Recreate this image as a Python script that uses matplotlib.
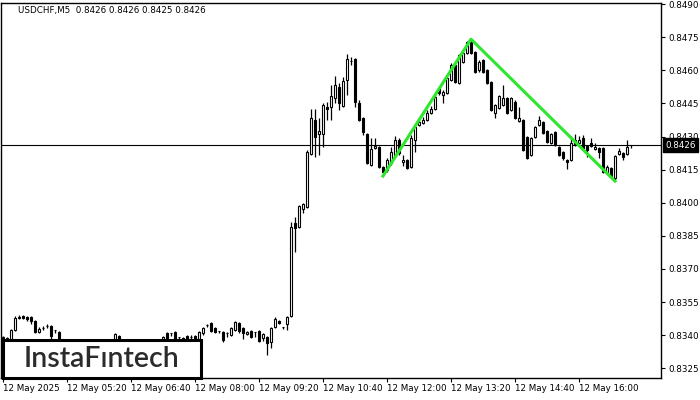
import numpy as np
import matplotlib
matplotlib.use('Agg')
import matplotlib.pyplot as plt
from matplotlib.patches import Rectangle

plt.rcParams['font.family'] = ['DejaVu Sans']

# USDCHF M5 bars, 12 May 2025 from 04:00
opens = [0.83387, 0.83382, 0.83378, 0.83423, 0.83478, 0.83487, 0.83482, 0.83482, 0.83464, 0.83414,
         0.83432, 0.83441, 0.83441, 0.83423, 0.83414, 0.83373, 0.83369, 0.83373, 0.83364, 0.83369,
         0.83364, 0.83369, 0.83373, 0.83378, 0.83373, 0.83369, 0.83364, 0.83369, 0.83373, 0.83396,
         0.83373, 0.83369, 0.83373, 0.83373, 0.83369, 0.83364, 0.83369, 0.83364, 0.83373, 0.83373,
         0.83373, 0.83410, 0.83410, 0.83414, 0.83391, 0.83387, 0.83396, 0.83391, 0.83396, 0.83378,
         0.83410, 0.83446, 0.83455, 0.83432, 0.83419, 0.83414, 0.83410, 0.83401, 0.83423, 0.83455,
         0.83432, 0.83405, 0.83419, 0.83414, 0.83419, 0.83387, 0.83391, 0.83369, 0.83437, 0.83464,
         0.83437, 0.83450, 0.83487, 0.83908, 0.83890, 0.83971, 0.83980, 0.84220, 0.84375, 0.84311,
         0.84311, 0.84433, 0.84433, 0.84474, 0.84524, 0.84438, 0.84556, 0.84642, 0.84651, 0.84452,
         0.84384, 0.84311, 0.84171, 0.84248, 0.84252, 0.84162, 0.84148, 0.84180, 0.84216, 0.84284,
         0.84184, 0.84193, 0.84162, 0.84284, 0.84352, 0.84361, 0.84375, 0.84406, 0.84424, 0.84519,
         0.84488, 0.84497, 0.84556, 0.84624, 0.84542, 0.84637, 0.84678, 0.84728, 0.84683, 0.84601,
         0.84646, 0.84601, 0.84547, 0.84406, 0.84429, 0.84442, 0.84474, 0.84420, 0.84456, 0.84370,
         0.84375, 0.84298, 0.84216, 0.84298, 0.84352, 0.84365, 0.84325, 0.84270, 0.84320, 0.84252,
         0.84230, 0.84193, 0.84193, 0.84284, 0.84270, 0.84293, 0.84257, 0.84270, 0.84243, 0.84248,
         0.84248, 0.84134, 0.84157, 0.84112, 0.84220, 0.84225, 0.84220, 0.8426]
highs = [0.83396, 0.83391, 0.83428, 0.83487, 0.83491, 0.83491, 0.83487, 0.83487, 0.83469, 0.83437,
         0.83441, 0.83450, 0.83446, 0.83423, 0.83419, 0.83378, 0.83378, 0.83378, 0.83373, 0.83373,
         0.83373, 0.83378, 0.83378, 0.83382, 0.83378, 0.83373, 0.83373, 0.83378, 0.83410, 0.83401,
         0.83378, 0.83378, 0.83382, 0.83378, 0.83373, 0.83373, 0.83373, 0.83378, 0.83382, 0.83378,
         0.83396, 0.83414, 0.83410, 0.83419, 0.83391, 0.83391, 0.83401, 0.83401, 0.83401, 0.83419,
         0.83437, 0.83450, 0.83459, 0.83437, 0.83419, 0.83419, 0.83414, 0.83437, 0.83464, 0.83459,
         0.83437, 0.83419, 0.83423, 0.83414, 0.83423, 0.83410, 0.83396, 0.83437, 0.83482, 0.83469,
         0.83437, 0.83487, 0.83912, 0.83935, 0.83989, 0.83999, 0.84239, 0.84424, 0.84424, 0.84384,
         0.84452, 0.84456, 0.84533, 0.84574, 0.84542, 0.84569, 0.84674, 0.84660, 0.84655, 0.84465,
         0.84388, 0.84316, 0.84293, 0.84293, 0.84257, 0.84166, 0.84202, 0.84252, 0.84302, 0.84293,
         0.84216, 0.84198, 0.84307, 0.84347, 0.84384, 0.84388, 0.84420, 0.84438, 0.84488, 0.84524,
         0.84510, 0.84569, 0.84633, 0.84633, 0.84674, 0.84683, 0.84732, 0.84741, 0.84687, 0.84646,
         0.84651, 0.84606, 0.84551, 0.84447, 0.84488, 0.84533, 0.84479, 0.84479, 0.84465, 0.84433,
         0.84379, 0.84302, 0.84298, 0.84347, 0.84393, 0.84370, 0.84329, 0.84316, 0.84325, 0.84257,
         0.84234, 0.84198, 0.84302, 0.84311, 0.84302, 0.84307, 0.84261, 0.84293, 0.84270, 0.84252,
         0.84252, 0.84171, 0.84162, 0.84216, 0.84248, 0.84230, 0.84284, 0.8426]
lows = [0.83378, 0.83373, 0.83369, 0.83419, 0.83473, 0.83473, 0.83464, 0.83450, 0.83410, 0.83410,
        0.83423, 0.83432, 0.83378, 0.83410, 0.83360, 0.83360, 0.83364, 0.83355, 0.83355, 0.83360,
        0.83360, 0.83364, 0.83369, 0.83369, 0.83360, 0.83355, 0.83360, 0.83364, 0.83369, 0.83369,
        0.83360, 0.83364, 0.83369, 0.83360, 0.83355, 0.83360, 0.83355, 0.83360, 0.83369, 0.83369,
        0.83369, 0.83373, 0.83396, 0.83369, 0.83378, 0.83369, 0.83373, 0.83382, 0.83373, 0.83373,
        0.83401, 0.83437, 0.83414, 0.83410, 0.83410, 0.83369, 0.83391, 0.83396, 0.83419, 0.83410,
        0.83382, 0.83401, 0.83387, 0.83391, 0.83369, 0.83373, 0.83310, 0.83342, 0.83432, 0.83450,
        0.83428, 0.83423, 0.83482, 0.83777, 0.83885, 0.83953, 0.83976, 0.84216, 0.84207, 0.84216,
        0.84252, 0.84375, 0.84375, 0.84452, 0.84420, 0.84433, 0.84488, 0.84624, 0.84433, 0.84370,
        0.84307, 0.84175, 0.84166, 0.84243, 0.84157, 0.84121, 0.84139, 0.84171, 0.84211, 0.84216,
        0.84166, 0.84153, 0.84157, 0.84230, 0.84347, 0.84356, 0.84370, 0.84402, 0.84420, 0.84488,
        0.84452, 0.84492, 0.84551, 0.84542, 0.84538, 0.84633, 0.84674, 0.84674, 0.84587, 0.84592,
        0.84587, 0.84538, 0.84415, 0.84384, 0.84424, 0.84438, 0.84402, 0.84415, 0.84379, 0.84365,
        0.84234, 0.84198, 0.84211, 0.84293, 0.84347, 0.84311, 0.84270, 0.84266, 0.84257, 0.84211,
        0.84193, 0.84153, 0.84189, 0.84257, 0.84266, 0.84243, 0.84207, 0.84252, 0.84239, 0.84202,
        0.84134, 0.84130, 0.84112, 0.84098, 0.84216, 0.84193, 0.84216, 0.8425]
closes = [0.83391, 0.83387, 0.83423, 0.83478, 0.83482, 0.83478, 0.83473, 0.83464, 0.83414, 0.83428,
          0.83432, 0.83441, 0.83396, 0.83423, 0.83373, 0.83369, 0.83373, 0.83364, 0.83369, 0.83364,
          0.83369, 0.83373, 0.83378, 0.83373, 0.83369, 0.83364, 0.83369, 0.83373, 0.83405, 0.83378,
          0.83369, 0.83373, 0.83378, 0.83369, 0.83364, 0.83369, 0.83364, 0.83373, 0.83378, 0.83378,
          0.83391, 0.83378, 0.83410, 0.83378, 0.83391, 0.83378, 0.83378, 0.83391, 0.83378, 0.83414,
          0.83432, 0.83446, 0.83419, 0.83414, 0.83419, 0.83378, 0.83410, 0.83432, 0.83459, 0.83419,
          0.83410, 0.83414, 0.83391, 0.83414, 0.83373, 0.83405, 0.83364, 0.83432, 0.83473, 0.83455,
          0.83437, 0.83482, 0.83890, 0.83885, 0.83985, 0.83994, 0.84230, 0.84384, 0.84298, 0.84325,
          0.84442, 0.84424, 0.84483, 0.84533, 0.84452, 0.84551, 0.84651, 0.84642, 0.84456, 0.84375,
          0.84320, 0.84180, 0.84243, 0.84257, 0.84162, 0.84139, 0.84193, 0.84230, 0.84284, 0.84225,
          0.84193, 0.84157, 0.84293, 0.84343, 0.84365, 0.84375, 0.84406, 0.84424, 0.84479, 0.84497,
          0.84501, 0.84565, 0.84624, 0.84547, 0.84669, 0.84678, 0.84728, 0.84678, 0.84592, 0.84637,
          0.84592, 0.84542, 0.84420, 0.84442, 0.84483, 0.84474, 0.84406, 0.84474, 0.84384, 0.84384,
          0.84239, 0.84202, 0.84293, 0.84343, 0.84375, 0.84316, 0.84275, 0.84311, 0.84261, 0.84216,
          0.84202, 0.84184, 0.84270, 0.84266, 0.84284, 0.84248, 0.84239, 0.84257, 0.84252, 0.84230,
          0.84139, 0.84162, 0.84116, 0.84211, 0.84234, 0.84207, 0.84252, 0.8426]

# pattern line: trough, peak, trough (bar index, price)
pattern_bars = [95, 117, 153]
pattern_prices = [0.84121, 0.84741, 0.84098]

last_price = 0.8426
price_ticks = [0.8325, 0.8340, 0.8355, 0.8370, 0.8385, 0.8400, 0.8415,
               0.8430, 0.8445, 0.8460, 0.8475, 0.8490]
time_tick_bars = [0, 16, 32, 48, 64, 80, 96, 112, 128, 144]
time_labels = ['12 May 2025', '12 May 05:20', '12 May 06:40', '12 May 08:00',
               '12 May 09:20', '12 May 10:40', '12 May 12:00', '12 May 13:20',
               '12 May 14:40', '12 May 16:00']

o = np.array(opens)
h = np.array(highs)
l = np.array(lows)
c = np.array(closes)
x = np.arange(len(o))

fig = plt.figure(figsize=(7, 4), dpi=100)
ax = fig.add_axes([1/700, 22/400, 660/700, 375/400])

ax.axhline(last_price, color='black', lw=0.8, zorder=1.5)

ax.vlines(x, l, h, color='black', lw=0.9, zorder=2)
up = c >= o
body = np.maximum(np.abs(c - o), 0.000004)
ax.bar(x, body, bottom=np.minimum(o, c), width=0.6,
       color=np.where(up, 'white', 'black'), edgecolor='black', lw=0.8, zorder=3)

ax.plot(pattern_bars, pattern_prices, color='#2ee62e', lw=2.2, zorder=4)

ax.set_xlim(-0.5, 164.5)
ax.set_ylim(0.83206, 0.84905)

ax.yaxis.tick_right()
ax.set_yticks(price_ticks)
ax.set_yticklabels([f'{v:.4f}' for v in price_ticks])
ax.set_xticks(time_tick_bars)
ax.set_xticklabels(time_labels, ha='left')
ax.tick_params(axis='both', direction='out', length=3, width=0.8, labelsize=6.3, pad=2)
ax.tick_params(axis='x', pad=1.5)
for s in ax.spines.values():
    s.set_linewidth(1)

ax.annotate(f'{last_price:.4f}', xy=(1.0, last_price), xycoords=('axes fraction', 'data'),
            xytext=(3, 0), textcoords='offset points', ha='left', va='center',
            fontsize=6.3, color='white', annotation_clip=False, zorder=6,
            bbox=dict(boxstyle='square,pad=0.3', fc='black', ec='black'))

fig.text(18/700, 1 - 11/400, 'USDCHF,M5  0.8426 0.8426 0.8425 0.8426',
         fontsize=6.3, va='center', ha='left')

# logo box
ax.add_patch(Rectangle((3/700, 22/400), 198/700, 38/400, transform=fig.transFigure,
                       fc='white', ec='black', lw=2.2, clip_on=False, zorder=8))
fig.text(102/700, 1 - 359/400, 'InstaFıntech', family='Lato', fontsize=20.5,
         fontweight='semibold', color='#2b2b2b', ha='center', va='center', zorder=9)

fig.savefig('out.png', dpi=100)
